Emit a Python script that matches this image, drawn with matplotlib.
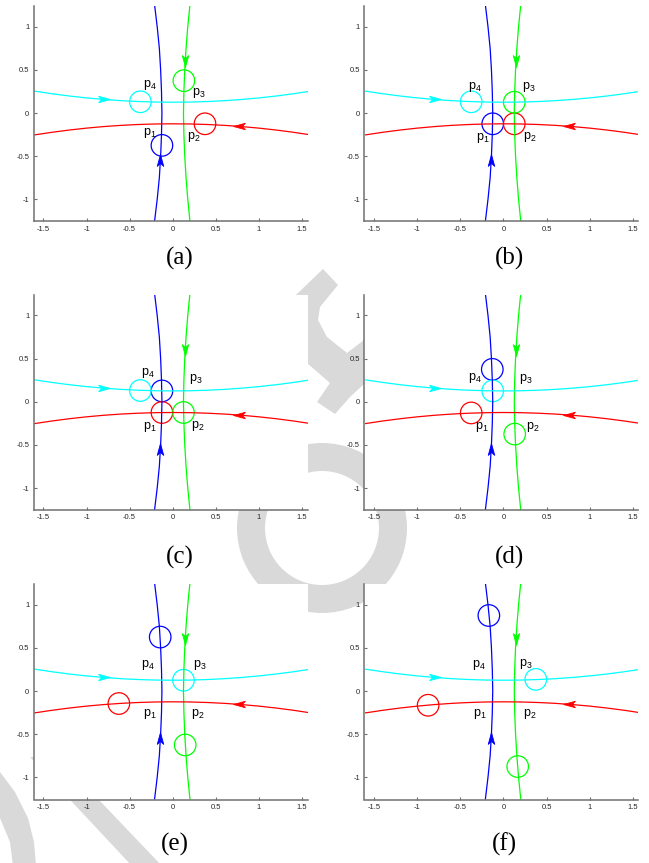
import matplotlib
matplotlib.use('Agg')
import matplotlib.pyplot as plt
from matplotlib.patches import Circle, Polygon, Wedge
from matplotlib.transforms import IdentityTransform

plt.rcParams['font.family'] = ['Liberation Sans', 'DejaVu Sans']
plt.rcParams['mathtext.default'] = 'regular'
plt.rcParams['axes.unicode_minus'] = False

# --- data ---
# vertical trajectories (blue goes up, green goes down)
vert_y = [-1.25, -1.0, -0.75, -0.5, -0.25, 0.0, 0.25, 0.5, 0.75, 1.0, 1.25]
blue_x = [-0.21, -0.18, -0.155, -0.14, -0.13, -0.125, -0.13, -0.14, -0.155, -0.18, -0.21]
green_x = [0.2, 0.175, 0.155, 0.14, 0.13, 0.125, 0.13, 0.14, 0.155, 0.175, 0.2]
# horizontal trajectories (cyan goes right, red goes left)
horiz_x = [-1.6, -1.4, -1.2, -1.0, -0.8, -0.6, -0.4, -0.2, 0.0, 0.2, 0.4, 0.6, 0.8, 1.0, 1.2, 1.4, 1.6]
cyan_y = [0.253, 0.223, 0.197, 0.175, 0.157, 0.143, 0.133, 0.127, 0.125,
          0.127, 0.133, 0.143, 0.157, 0.175, 0.197, 0.223, 0.253]
red_y = [-0.253, -0.223, -0.197, -0.175, -0.157, -0.143, -0.133, -0.127, -0.125,
         -0.127, -0.133, -0.143, -0.157, -0.175, -0.197, -0.223, -0.253]

# arrow heads: centre of each head on its curve
blue_arrow = (-0.142, -0.55)
green_arrow = (0.143, 0.60)
cyan_arrow = (-0.795, 0.162)
red_arrow = (0.765, -0.151)

# circle (agent) centres in each panel
panel_names = ['(a)', '(b)', '(c)', '(d)', '(e)', '(f)']
blue_c = [(-0.125, -0.375), (-0.125, -0.125), (-0.125, 0.125), (-0.13, 0.375), (-0.145, 0.625), (-0.17, 0.875)]
red_c = [(0.375, -0.125), (0.125, -0.125), (-0.125, -0.125), (-0.375, -0.13), (-0.625, -0.145), (-0.875, -0.165)]
green_c = [(0.13, 0.375), (0.125, 0.125), (0.125, -0.125), (0.13, -0.375), (0.145, -0.625), (0.165, -0.875)]
cyan_c = [(-0.375, 0.13), (-0.375, 0.13), (-0.375, 0.13), (-0.125, 0.125), (0.125, 0.125), (0.375, 0.135)]
radius = 0.125

# label positions p1..p4 per panel
p1_xy = [(-0.27, -0.235), (-0.24, -0.293), (-0.264, -0.295), (-0.25, -0.295), (-0.264, -0.27), (-0.273, -0.27)]
p2_xy = [(0.242, -0.28), (0.30, -0.28), (0.293, -0.28), (0.337, -0.295), (0.288, -0.27), (0.30, -0.27)]
p3_xy = [(0.30, 0.228), (0.289, 0.298), (0.273, 0.26), (0.264, 0.26), (0.312, 0.304), (0.264, 0.313)]
p4_xy = [(-0.27, 0.325), (-0.33, 0.298), (-0.283, 0.333), (-0.337, 0.275), (-0.288, 0.304), (-0.288, 0.304)]

xticks = [-1.5, -1, -0.5, 0, 0.5, 1, 1.5]
xtick_labels = ['-1.5', '-1', '-0.5', '0', '0.5', '1', '1.5']
yticks = [-1, -0.5, 0, 0.5, 1]
ytick_labels = ['-1', '-0.5', '0', '0.5', '1']

BLUE = '#0000ff'
RED = '#ff0000'
GREEN = '#00ff00'
CYAN = '#00ffff'
W, H = 649, 863

# notched arrow-head markers, one per direction
head_up = [(0, 1), (0.55, -1), (0, -0.5), (-0.55, -1), (0, 1)]
head_down = [(0, -1), (0.55, 1), (0, 0.5), (-0.55, 1), (0, -1)]
head_right = [(1, 0), (-1, 0.55), (-0.5, 0), (-1, -0.55), (1, 0)]
head_left = [(-1, 0), (1, 0.55), (0.5, 0), (1, -0.55), (-1, 0)]

fig = plt.figure(figsize=(W / 100, H / 100), dpi=100)
fig.patch.set_facecolor('white')

# light gray watermark behind the panels (image pixel coords, y down)
def flip(pts):
    return [(x, H - y) for x, y in pts]

wm = '#d9d9d9'
wm_top = [(290, 300), (298, 293), (323, 269), (338, 285), (320, 307), (318, 320), (327, 337),
          (347, 353), (364, 340), (375, 332), (375, 378), (364, 384), (350, 397), (335, 414),
          (317, 402), (330, 383), (300, 357)]
wm_left = [(0, 772), (15, 792), (28, 818), (34, 842), (36, 866), (13, 866), (10, 842), (0, 818)]
wm_diag = [(30, 757), (58, 757), (162, 866), (132, 866)]
for pts in (wm_top, wm_left, wm_diag):
    fig.add_artist(Polygon(flip(pts), closed=True, facecolor=wm, edgecolor='none',
                           transform=IdentityTransform(), zorder=-1))
fig.add_artist(Wedge((322, H - 528), 85, 0, 360, width=28, facecolor=wm, edgecolor='none',
                     transform=IdentityTransform(), zorder=-1))

# panel geometry in pixels
col_left = [33.5, 364.3]
row_top = [6, 294.7, 584]
ax_w, ax_h = 274, 215.5
caption_xy = [(180, 258), (510, 258), (180, 557), (510, 557), (175, 844), (504, 844)]

for i, name in enumerate(panel_names):
    r, c = divmod(i, 2)
    left = col_left[c] / W
    bottom = 1 - (row_top[r] + ax_h) / H
    ax = fig.add_axes([left, bottom, ax_w / W, ax_h / H])
    ax.set_facecolor('white')

    ax.plot(blue_x, vert_y, color=BLUE, lw=0.9)
    ax.plot(green_x, vert_y, color=GREEN, lw=0.9)
    ax.plot(horiz_x, cyan_y, color=CYAN, lw=0.9)
    ax.plot(horiz_x, red_y, color=RED, lw=0.9)

    for pos, head, col in ((blue_arrow, head_up, BLUE), (green_arrow, head_down, GREEN),
                           (cyan_arrow, head_right, CYAN), (red_arrow, head_left, RED)):
        ax.plot([pos[0]], [pos[1]], marker=head, markersize=8.5, color=col,
                markeredgewidth=0.6, linestyle='none')

    for centres, col in ((blue_c, BLUE), (red_c, RED), (green_c, GREEN), (cyan_c, CYAN)):
        ax.add_patch(Circle(centres[i], radius, fill=False, edgecolor=col, lw=0.9))

    for k, pos in enumerate((p1_xy, p2_xy, p3_xy, p4_xy)):
        ax.text(pos[i][0], pos[i][1], 'p$_%d$' % (k + 1), ha='center', va='center',
                fontsize=9, color='black')

    ax.set_xlim(-1.616, 1.565)
    ax.set_ylim(-1.257, 1.24)
    ax.set_xticks(xticks)
    ax.set_xticklabels(xtick_labels)
    ax.set_yticks(yticks)
    ax.set_yticklabels(ytick_labels)
    for s in ('top', 'right'):
        ax.spines[s].set_visible(False)
    for s in ('left', 'bottom'):
        ax.spines[s].set_color('#707070')
        ax.spines[s].set_linewidth(1.1)
    ax.tick_params(direction='in', length=2.5, width=0.8, color='#707070',
                   labelsize=5.5, labelcolor='#262626', pad=3)

    cx, cy = caption_xy[i]
    fig.text(cx / W, 1 - cy / H, name, ha='center', va='center', fontsize=18,
             family='Liberation Serif', zorder=5)

fig.savefig('out.png', dpi=100, facecolor='white')
